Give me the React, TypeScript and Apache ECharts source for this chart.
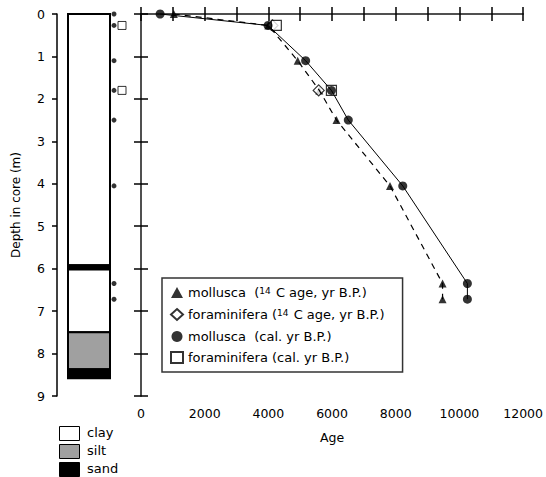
import React, { useEffect, useRef } from 'react';
import * as echarts from 'echarts';

// ---- data ----
const molluscaDepths = [0, 0.27, 1.1, 1.8, 2.5, 4.05, 6.35, 6.72];
const mollusca14CAge = [1030, 4000, 4920, 5600, 6140, 7820, 9470, 9470];
const molluscaCalAge = [600, 3990, 5170, 5980, 6510, 8220, 10250, 10250];
const foramDepths = [0.27, 1.8];
const foram14CAge = [4130, 5580];
const foramCalAge = [4250, 5980];

const layerTops = [0, 5.92, 6.02, 7.5, 8.37];
const layerBottoms = [5.92, 6.02, 7.5, 8.37, 8.58];
const layerTypes = ['clay', 'sand', 'clay', 'silt', 'sand'];
const lithologies = ['clay', 'silt', 'sand'];

const seriesNames = [
  'mollusca (14C age, yr B.P.)',
  'foraminifera (14C age, yr B.P.)',
  'mollusca (cal. yr B.P.)',
  'foraminifera (cal. yr B.P.)',
];
const legendLabels: Record<string, string> = {
  'mollusca (14C age, yr B.P.)': '{t|mollusca  (}{s|14}{t| C age, yr B.P.)}',
  'foraminifera (14C age, yr B.P.)': '{t|foraminifera (}{s|14}{t| C age, yr B.P.)}',
  'mollusca (cal. yr B.P.)': '{t|mollusca  (cal. yr B.P.)}',
  'foraminifera (cal. yr B.P.)': '{t|foraminifera (cal. yr B.P.)}',
};

const FONT = "'DejaVu Sans', 'Liberation Sans', Arial, sans-serif";
const fills: Record<string, string> = { clay: '#ffffff', silt: '#a0a0a0', sand: '#000000' };

export default function App() {
  const ref = useRef<HTMLDivElement>(null);
  useEffect(() => {
    document.body.style.margin = '0';
    const chart = echarts.init(ref.current!, undefined, { renderer: 'svg' });
    const axisLine = { show: true, lineStyle: { color: '#444', width: 1.5 } };
    const tickIn = { show: true, inside: true, length: 7, lineStyle: { color: '#000', width: 1.5 } };

    const pairs = (xs: number[], ys: number[]) => xs.map((x, i) => [x, ys[i]]);
    const colLeft = 11, colRight = 53, dotX = 57, sqX = 65;

    const option: any = {
      animation: false,
      textStyle: { fontFamily: FONT },
      grid: [
        { left: 141, top: 14, width: 385, height: 382 },
        { left: 57, top: 14, width: 73, height: 382 },
      ],
      xAxis: [
        {
          gridIndex: 0, type: 'value', min: 0, max: 12000, interval: 1000, position: 'bottom',
          axisLine, axisTick: tickIn, splitLine: { show: false },
          axisLabel: {
            color: '#000', fontSize: 12.5, fontFamily: FONT, margin: 11,
            formatter: (v: number) => (v % 2000 === 0 ? String(v) : ''),
          },
          name: 'Age', nameLocation: 'middle', nameGap: 35,
          nameTextStyle: { color: '#000', fontSize: 12.5, fontFamily: FONT },
        },
        {
          gridIndex: 0, type: 'value', min: 0, max: 12000, interval: 1000, position: 'top',
          axisLine, axisTick: tickIn, splitLine: { show: false }, axisLabel: { show: false },
        },
        { gridIndex: 1, type: 'value', min: 0, max: 73, show: false },
      ],
      yAxis: [
        {
          gridIndex: 0, type: 'value', min: 0, max: 9, interval: 1, inverse: true, position: 'left',
          axisLine, axisTick: tickIn, splitLine: { show: false }, axisLabel: { show: false },
        },
        {
          gridIndex: 0, type: 'value', min: 0, max: 9, interval: 1, inverse: true, position: 'right',
          axisLine, axisTick: tickIn, splitLine: { show: false }, axisLabel: { show: false },
        },
        {
          gridIndex: 1, type: 'value', min: 0, max: 9, interval: 1, inverse: true, position: 'left',
          axisLine: { show: true, lineStyle: { color: '#000', width: 1.5 } },
          axisTick: { show: true, inside: false, length: 5, lineStyle: { color: '#000', width: 1.5 } },
          splitLine: { show: false },
          axisLabel: { color: '#000', fontSize: 12.5, fontFamily: FONT, margin: 12 },
          name: 'Depth in core (m)', nameLocation: 'middle', nameGap: 35,
          nameTextStyle: { color: '#000', fontSize: 12, fontFamily: FONT },
        },
      ],
      legend: {
        orient: 'vertical', left: 162, top: 278,
        data: seriesNames,
        itemWidth: 12, itemHeight: 11, itemGap: 8,
        padding: [8, 18, 8, 8],
        borderColor: '#333', borderWidth: 1.5, backgroundColor: '#fff',
        formatter: (n: string) => legendLabels[n] ?? n,
        textStyle: {
          fontFamily: FONT,
          rich: {
            t: { fontSize: 13, color: '#000', fontFamily: FONT, lineHeight: 13 },
            s: { fontSize: 9, color: '#000', fontFamily: FONT, verticalAlign: 'top', lineHeight: 9, padding: [0, 1, 5, 0] },
          },
        },
      },
      series: [
        {
          type: 'custom', xAxisIndex: 2, yAxisIndex: 2, silent: true,
          data: layerTops.map((t, i) => [t, layerBottoms[i], lithologies.indexOf(layerTypes[i])]),
          renderItem: (_p: any, api: any) => {
            const top = api.value(0), bottom = api.value(1), k = api.value(2);
            const p1 = api.coord([colLeft, top]);
            const p2 = api.coord([colRight, bottom]);
            return {
              type: 'rect',
              shape: { x: p1[0], y: p1[1], width: p2[0] - p1[0], height: p2[1] - p1[1] },
              style: { fill: fills[lithologies[k]], stroke: '#000', lineWidth: 2 },
            };
          },
        },
        {
          type: 'scatter', xAxisIndex: 2, yAxisIndex: 2, symbol: 'circle', symbolSize: 5,
          itemStyle: { color: '#000' }, data: molluscaDepths.map((d) => [dotX, d]), silent: true,
        },
        {
          type: 'scatter', xAxisIndex: 2, yAxisIndex: 2, symbol: 'rect', symbolSize: 8,
          itemStyle: { color: '#fff', borderColor: '#000', borderWidth: 1 },
          data: foramDepths.map((d) => [sqX, d]), silent: true,
        },
        {
          type: 'line', xAxisIndex: 0, yAxisIndex: 0, showSymbol: false, symbol: 'none',
          lineStyle: { color: '#000', width: 1 }, data: pairs(molluscaCalAge, molluscaDepths), silent: true,
        },
        {
          type: 'line', xAxisIndex: 0, yAxisIndex: 0, showSymbol: false, symbol: 'none',
          lineStyle: { color: '#000', width: 1.2, type: [6, 5] },
          data: pairs(mollusca14CAge, molluscaDepths), silent: true,
        },
        {
          name: seriesNames[0], type: 'scatter', xAxisIndex: 0, yAxisIndex: 0,
          symbol: 'triangle', symbolSize: 8, itemStyle: { color: '#000' },
          data: pairs(mollusca14CAge, molluscaDepths),
        },
        {
          name: seriesNames[1], type: 'scatter', xAxisIndex: 0, yAxisIndex: 0,
          symbol: 'diamond', symbolSize: 11, itemStyle: { color: '#fff', borderColor: '#000', borderWidth: 1.2 },
          data: pairs(foram14CAge, foramDepths),
        },
        {
          name: seriesNames[3], type: 'scatter', xAxisIndex: 0, yAxisIndex: 0,
          symbol: 'rect', symbolSize: 10, itemStyle: { color: '#fff', borderColor: '#000', borderWidth: 1.2 },
          data: pairs(foramCalAge, foramDepths),
        },
        {
          name: seriesNames[2], type: 'scatter', xAxisIndex: 0, yAxisIndex: 0,
          symbol: 'circle', symbolSize: 9, itemStyle: { color: '#000' },
          data: pairs(molluscaCalAge, molluscaDepths),
        },
      ],
      graphic: lithologies.flatMap((name, i) => [
        {
          type: 'rect', left: 59, top: 426 + i * 18,
          shape: { width: 20, height: 14 },
          style: { fill: fills[name], stroke: '#000', lineWidth: 1 },
        },
        {
          type: 'text', left: 87, top: 426 + i * 18,
          style: { text: name, fill: '#000', font: `13px ${FONT}` },
        },
      ]),
    };
    chart.setOption(option);
    return () => chart.dispose();
  }, []);
  return <div ref={ref} style={{ width: 546, height: 477 }} />;
}
